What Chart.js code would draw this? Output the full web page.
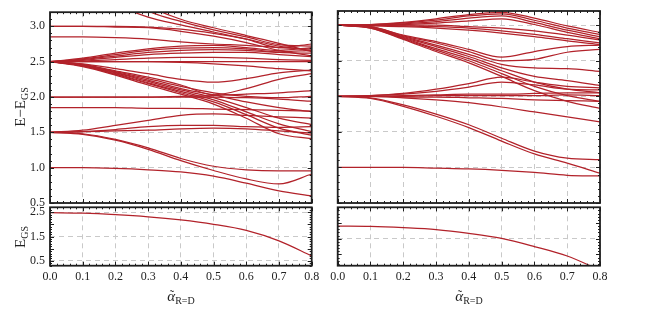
<!DOCTYPE html>
<html><head><meta charset="utf-8">
<script src="https://cdn.jsdelivr.net/npm/chart.js@4/dist/chart.umd.min.js"></script>
<style>
body{margin:0;background:#fff;}
#wrap{position:relative;width:650px;height:311px;overflow:hidden;font-family:"Liberation Serif","DejaVu Serif",serif;color:#222;}
#wrap canvas{position:absolute;left:0;top:0;}
.ttl{position:absolute;font-size:15px;white-space:nowrap;line-height:1;}
.ttl sub{font-size:10px;vertical-align:-3px;}
.rot{transform:translate(-50%,-50%) rotate(-90deg);}
.hor{transform:translate(-50%,-50%);}
.acc{position:relative;display:inline-block;font-style:italic;}
.acc .tl{position:absolute;left:58%;top:-1px;transform:translateX(-50%);font-style:normal;font-size:13px;}
</style></head>
<body>
<div id="wrap">
  <div class="ttl rot" style="left:21px;top:107px;">E−E<sub>GS</sub></div>
  <div class="ttl rot" style="left:21px;top:237px;">E<sub>GS</sub></div>
  <div class="ttl hor" style="left:181px;top:297px;"><span class="acc">α<span class="tl">˜</span></span><sub>R=D</sub></div>
  <div class="ttl hor" style="left:469px;top:297px;"><span class="acc">α<span class="tl">˜</span></span><sub>R=D</sub></div>
</div>
<script>
// ---- data ----
const xs = [0,0.1,0.2,0.3,0.4,0.5,0.6,0.7,0.8];
const xTicks = [0,0.1,0.2,0.3,0.4,0.5,0.6,0.7,0.8];
const topYTicks = [0.5,1.0,1.5,2.0,2.5,3.0];
const bottomLeftYTicks = [0.5,1.5,2.5];
const bottomRightYTicks = [1.5,2.5];

// top-left panel (excitation energies)
const tlFrom10 = [[1.00,1.00,0.99,0.97,0.94,0.88,0.78,0.67,0.60]];
const tlFrom15 = [
  [1.50,1.48,1.40,1.28,1.13,1.02,0.97,0.955,0.955],
  [1.50,1.47,1.39,1.26,1.10,0.96,0.84,0.77,0.91],
  [1.50,1.53,1.60,1.67,1.74,1.76,1.74,1.72,1.70],
  [1.50,1.51,1.54,1.58,1.60,1.60,1.58,1.57,1.58],
  [1.50,1.51,1.52,1.53,1.55,1.56,1.55,1.52,1.49]];
const tlFrom185 = [[1.85,1.85,1.85,1.84,1.84,1.83,1.82,1.81,1.80]];
const tlFrom20 = [
  [2.00,2.00,2.00,2.00,2.00,2.00,1.99,1.97,1.94],
  [2.00,2.00,2.00,2.00,2.01,2.02,2.04,2.06,2.09]];
const tlFrom25 = [
  [2.50,2.47,2.40,2.33,2.25,2.21,2.26,2.34,2.38],
  [2.50,2.46,2.37,2.28,2.17,2.03,2.12,2.25,2.33],
  [2.50,2.46,2.36,2.26,2.15,2.06,2.01,1.99,2.01],
  [2.50,2.45,2.35,2.24,2.12,2.03,1.93,1.85,1.79],
  [2.50,2.45,2.34,2.22,2.10,1.99,1.85,1.70,1.61],
  [2.50,2.44,2.33,2.20,2.08,1.96,1.79,1.62,1.51],
  [2.50,2.44,2.32,2.19,2.06,1.93,1.75,1.56,1.46],
  [2.50,2.43,2.31,2.17,2.04,1.90,1.70,1.48,1.41],
  [2.50,2.50,2.50,2.50,2.50,2.50,2.50,2.50,2.50],
  [2.50,2.50,2.50,2.50,2.49,2.47,2.44,2.40,2.37],
  [2.50,2.51,2.53,2.55,2.56,2.56,2.55,2.53,2.52],
  [2.50,2.52,2.56,2.60,2.62,2.63,2.63,2.60,2.57],
  [2.50,2.53,2.58,2.63,2.66,2.67,2.66,2.63,2.62],
  [2.50,2.54,2.60,2.66,2.69,2.70,2.68,2.64,2.66],
  [2.50,2.55,2.62,2.68,2.72,2.73,2.70,2.66,2.70]];
const tlFrom285 = [[2.85,2.85,2.84,2.82,2.78,2.75,2.73,2.70,2.68]];
const tlFrom30 = [
  [3.00,3.00,3.00,2.99,2.96,2.90,2.82,2.72,2.66],
  [3.00,3.00,2.99,2.98,2.93,2.86,2.77,2.66,2.58]];
const tlFromAbove = [
  [3.90,3.65,3.32,3.13,3.02,2.92,2.82,2.70,2.75],
  [4.10,3.85,3.55,3.22,3.07,2.95,2.85,2.74,2.72],
  [4.30,4.00,3.70,3.30,3.10,2.98,2.87,2.76,2.64]];

// top-right panel
const trFrom10 = [[1.00,1.00,1.00,0.99,0.98,0.96,0.93,0.89,0.88]];
const trFrom20 = [
  [2.00,1.98,1.88,1.75,1.60,1.41,1.23,1.13,1.11],
  [2.00,1.97,1.86,1.72,1.56,1.37,1.19,1.06,0.92],
  [2.00,2.01,2.04,2.10,2.18,2.27,2.20,2.14,2.12],
  [2.00,2.01,2.03,2.07,2.13,2.20,2.16,2.10,2.09],
  [2.00,2.00,2.01,2.02,2.03,2.03,2.04,2.05,2.05],
  [2.00,2.00,2.00,2.01,2.01,2.01,2.01,2.02,2.01],
  [2.00,2.00,1.99,1.99,1.98,1.97,1.95,1.94,1.93],
  [2.00,2.00,1.98,1.95,1.91,1.85,1.78,1.71,1.64]];
const trFrom30 = [
  [3.00,3.01,3.04,3.09,3.15,3.18,3.10,2.99,2.90],
  [3.00,3.01,3.03,3.07,3.13,3.16,3.07,2.96,2.87],
  [3.00,3.00,3.02,3.05,3.10,3.13,3.04,2.93,2.84],
  [3.00,3.00,3.01,3.03,3.06,3.09,3.01,2.90,2.81],
  [3.00,3.00,3.00,3.00,2.98,2.96,2.92,2.86,2.79],
  [3.00,3.00,2.99,2.98,2.96,2.92,2.87,2.81,2.75],
  [3.00,2.99,2.98,2.96,2.93,2.89,2.84,2.78,2.73],
  [3.00,2.98,2.86,2.77,2.66,2.55,2.63,2.70,2.72],
  [3.00,2.98,2.85,2.75,2.63,2.50,2.52,2.62,2.66],
  [3.00,2.97,2.84,2.72,2.59,2.45,2.40,2.39,2.35],
  [3.00,2.97,2.83,2.70,2.56,2.40,2.28,2.22,2.15],
  [3.00,2.97,2.82,2.67,2.53,2.36,2.20,2.10,2.05],
  [3.00,2.96,2.81,2.65,2.50,2.32,2.14,2.01,1.93],
  [3.00,2.96,2.80,2.63,2.47,2.28,2.08,1.93,1.83]];

// ground-state energies (bottom panels)
const blGround = [2.48,2.46,2.40,2.31,2.18,2.00,1.75,1.32,0.70];
const brGround = [1.90,1.89,1.85,1.79,1.67,1.51,1.25,0.95,0.50];

// ---- drawing ----
const RED = '#b2222a';
const GRID = '#c9c9c9';
const FONT = "'Liberation Serif','DejaVu Serif',serif";
const W = 650, H = 311;
const wrap = document.getElementById('wrap');

const framePlugin = {
  id: 'frame',
  afterDraw(chart) {
    const {ctx, chartArea: a, scales: {x, y}} = chart;
    ctx.save();
    ctx.strokeStyle = '#1e1e1e';
    ctx.lineWidth = 1;
    ctx.beginPath();
    for (let i = 0; i <= 40; i++) {
      const px = Math.round(x.getPixelForValue(i * 0.02)) + 0.5;
      const L = i % 5 === 0 ? 4 : 2;
      ctx.moveTo(px, a.bottom); ctx.lineTo(px, a.bottom - L);
      ctx.moveTo(px, a.top); ctx.lineTo(px, a.top + L);
    }
    const k0 = Math.ceil(y.min * 10 - 1e-6), k1 = Math.floor(y.max * 10 + 1e-6);
    for (let k = k0; k <= k1; k++) {
      const py = Math.round(y.getPixelForValue(k / 10)) + 0.5;
      const L = k % 5 === 0 ? 4 : 2;
      ctx.moveTo(a.left, py); ctx.lineTo(a.left + L, py);
      ctx.moveTo(a.right, py); ctx.lineTo(a.right - L, py);
    }
    ctx.stroke();
    ctx.lineWidth = 1.8;
    ctx.strokeRect(a.left, a.top, a.right - a.left, a.bottom - a.top);
    ctx.restore();
  }
};

function makePanel(p) {
  const c = document.createElement('canvas');
  c.width = W; c.height = H;
  wrap.insertBefore(c, wrap.firstChild);
  const xH = p.showX ? 24 : 0;
  const yW = p.showY ? 50 : 0;
  new Chart(c, {
    type: 'line',
    data: {
      datasets: p.series.map(ys => ({
        data: xs.map((x, i) => ({x: x, y: ys[i]})),
        borderColor: RED, borderWidth: 1.25, pointRadius: 0,
        cubicInterpolationMode: 'monotone', fill: false
      }))
    },
    options: {
      responsive: false, animation: false, devicePixelRatio: 1,
      events: [],
      layout: {padding: {left: p.l - yW, top: p.t, right: W - p.r, bottom: H - p.b - xH}},
      plugins: {legend: {display: false}, tooltip: {enabled: false}},
      scales: {
        x: {
          type: 'linear', min: 0, max: 0.8,
          afterBuildTicks: s => { s.ticks = xTicks.map(v => ({value: v})); },
          afterFit: s => { s.height = xH; },
          grid: {color: GRID, lineWidth: 1, drawTicks: false},
          border: {display: false, dash: [5, 4]},
          ticks: {display: p.showX, padding: 4, color: '#222', font: {family: FONT, size: 12},
                  maxRotation: 0, autoSkip: false, callback: v => Number(v).toFixed(1)}
        },
        y: {
          type: 'linear', min: p.yMin, max: p.yMax,
          afterBuildTicks: s => { s.ticks = p.yTicks.map(v => ({value: v})); },
          afterFit: s => { s.width = yW; },
          grid: {color: GRID, lineWidth: 1, drawTicks: false},
          border: {display: false, dash: [5, 4]},
          ticks: {display: p.showY, padding: 5, color: '#222', font: {family: FONT, size: 12},
                  autoSkip: false, callback: v => Number(v).toFixed(1)}
        }
      }
    },
    plugins: [framePlugin]
  });
}

const topLeftSeries = [].concat(tlFrom10, tlFrom15, tlFrom185, tlFrom20, tlFrom25, tlFrom285, tlFrom30, tlFromAbove);
const topRightSeries = [].concat(trFrom10, trFrom20, trFrom30);

makePanel({l: 50, r: 311.7, t: 11, b: 203, yMin: 0.5, yMax: 3.2, yTicks: topYTicks, showX: false, showY: true, series: topLeftSeries});
makePanel({l: 50, r: 311.7, t: 207.3, b: 265.7, yMin: 0.3, yMax: 2.7, yTicks: bottomLeftYTicks, showX: true, showY: true, series: [blGround]});
makePanel({l: 337.7, r: 600, t: 11, b: 203, yMin: 0.5, yMax: 3.2, yTicks: topYTicks, showX: false, showY: false, series: topRightSeries});
makePanel({l: 337.7, r: 600, t: 207.3, b: 265.7, yMin: 0.64, yMax: 2.5, yTicks: bottomRightYTicks, showX: true, showY: false, series: [brGround]});
</script>
</body></html>
